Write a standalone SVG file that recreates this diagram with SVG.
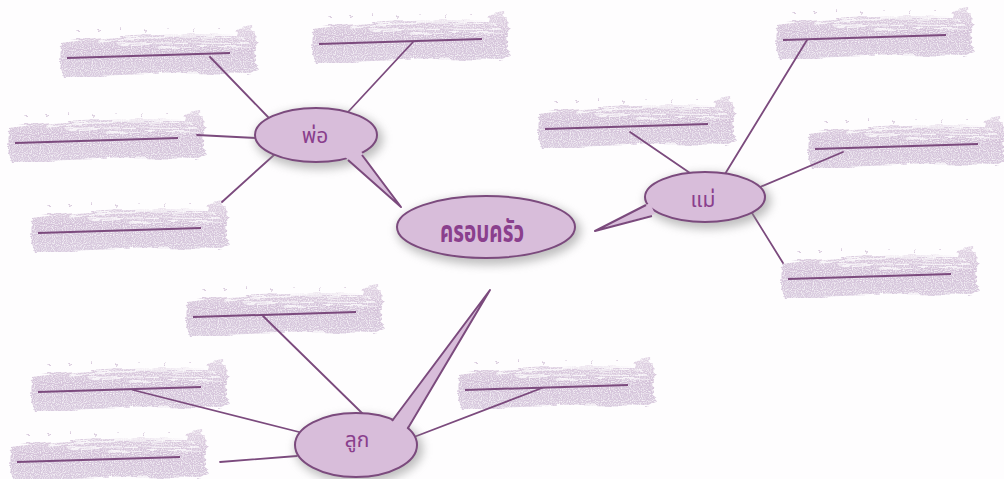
<svg xmlns="http://www.w3.org/2000/svg" xmlns:xlink="http://www.w3.org/1999/xlink" width="1004" height="479" viewBox="0 0 1004 479">
<style>
.conn{stroke:#7b4a7d;stroke-width:1.8;fill:none;stroke-linecap:round}
.ul{stroke:#7b4a7d;stroke-width:2;fill:none}
.bub{fill:#d8bdda;stroke:#7b4a7d;stroke-width:2}
.tailf{fill:#d8bdda;stroke:none}
.tails{fill:none;stroke:#7b4a7d;stroke-width:2;stroke-linejoin:round}
.shadow{fill:#8a8a8a;opacity:0.55}
.lbl{font-family:"Noto Sans Thai","Noto Sans","DejaVu Sans",sans-serif;fill:#8a3f8d;text-anchor:middle}
</style>
<defs>
<linearGradient id="brushGrad" x1="0" y1="0" x2="0" y2="1">
<stop offset="0" stop-color="#e2d5e5"/>
<stop offset="0.45" stop-color="#d4c2d9"/>
<stop offset="1" stop-color="#d9cbdf"/>
</linearGradient>
<filter id="rough" x="-5%" y="-25%" width="110%" height="150%">
<feTurbulence type="fractalNoise" baseFrequency="0.03 0.3" numOctaves="3" seed="4" result="n"/>
<feDisplacementMap in="SourceGraphic" in2="n" scale="7" xChannelSelector="R" yChannelSelector="G" result="d"/>
<feTurbulence type="fractalNoise" baseFrequency="0.9" numOctaves="1" seed="7" result="g"/>
<feColorMatrix in="g" type="matrix" values="0 0 0 0 1  0 0 0 0 1  0 0 0 0 1  0 0 0 -2.2 1.25" result="gw"/>
<feComposite in="gw" in2="d" operator="atop"/>
</filter>
<filter id="blur" x="-30%" y="-30%" width="160%" height="160%">
<feGaussianBlur stdDeviation="5"/>
</filter>
<g id="blank">
<g filter="url(#rough)">
<path d="M3,18 C45,11 115,8 178,10 L180,3 L193,1 L199,14 L197,32 L200,44 L190,49 C130,47 70,49 6,53 L2,40 Z" fill="url(#brushGrad)"/>
<path d="M40,16 C90,12 140,11 185,13 M60,20 C110,17 150,16 190,18 M100,23 C130,21 160,21 192,22" stroke="#ffffff" stroke-width="1.3" opacity="0.75" fill="none"/>
<path d="M20,7 h2 M40,5 h2 M62,4 h1 M85,6 h2 M110,3 h2 M135,5 h1 M160,4 h2" stroke="#cdb9d2" stroke-width="1.5" fill="none"/>
</g>
<path class="ul" d="M9,33 L172,28"/>
</g>
</defs>
<rect width="1004" height="479" fill="#fefdfe"/>

<g id="blanks">
<g id="blank1"><use xlink:href="#blank" href="#blank" transform="translate(58,25)"/></g>
<g id="blank2"><use xlink:href="#blank" href="#blank" transform="translate(310,11)"/></g>
<g id="blank3"><use xlink:href="#blank" href="#blank" transform="translate(774,7)"/></g>
<g id="blank4"><use xlink:href="#blank" href="#blank" transform="translate(6,110)"/></g>
<g id="blank5"><use xlink:href="#blank" href="#blank" transform="translate(29,200)"/></g>
<g id="blank6"><use xlink:href="#blank" href="#blank" transform="translate(536,96)"/></g>
<g id="blank7"><use xlink:href="#blank" href="#blank" transform="translate(806,116)"/></g>
<g id="blank8"><use xlink:href="#blank" href="#blank" transform="translate(779,246)"/></g>
<g id="blank9"><use xlink:href="#blank" href="#blank" transform="translate(184,284)"/></g>
<g id="blank10"><use xlink:href="#blank" href="#blank" transform="translate(29,359)"/></g>
<g id="blank11"><use xlink:href="#blank" href="#blank" transform="translate(8,429)"/></g>
<g id="blank12"><use xlink:href="#blank" href="#blank" transform="translate(456,357)"/></g>
</g>

<g id="connectors">
<line class="conn" x1="210" y1="57" x2="268" y2="117"/>
<line class="conn" x1="413" y1="42" x2="348" y2="112"/>
<line class="conn" x1="197" y1="135" x2="256" y2="138"/>
<line class="conn" x1="222" y1="202" x2="274" y2="155"/>
<line class="conn" x1="630" y1="132" x2="690" y2="173"/>
<line class="conn" x1="807" y1="40" x2="725" y2="174"/>
<line class="conn" x1="843" y1="152" x2="760" y2="187"/>
<line class="conn" x1="783" y1="263" x2="752" y2="213"/>
<line class="conn" x1="263" y1="316" x2="363" y2="414"/>
<line class="conn" x1="133" y1="390" x2="299" y2="432"/>
<line class="conn" x1="220" y1="462" x2="297" y2="456"/>
<line class="conn" x1="542" y1="388" x2="414" y2="437"/>
</g>

<g id="node-family">
<ellipse class="shadow" cx="489" cy="231" rx="92" ry="34" filter="url(#blur)"/>
<ellipse class="bub" cx="486" cy="227" rx="89" ry="31"/>
<text class="lbl" x="482" y="242" font-size="30" font-weight="bold" textLength="84" lengthAdjust="spacingAndGlyphs">ครอบครัว</text>
</g>

<g id="node-father">
<ellipse class="shadow" cx="319" cy="139" rx="64" ry="30" filter="url(#blur)"/>
<ellipse class="bub" cx="316" cy="135" rx="61" ry="27"/>
<path class="tailf" d="M344,156 L360,150 L401,207 Z"/>
<path class="tails" d="M348,160 L401,207 L362,155"/>
<text class="lbl" x="315" y="143" font-size="21">พ่อ</text>
</g>

<g id="node-mother">
<ellipse class="shadow" cx="708" cy="201" rx="63" ry="28" filter="url(#blur)"/>
<ellipse class="bub" cx="705" cy="197" rx="60" ry="25"/>
<path class="tailf" d="M650,203 L655,214 L595,231 Z"/>
<path class="tails" d="M646,205 L595,231 L652,216"/>
<text class="lbl" x="703" y="207" font-size="21">แม่</text>
</g>

<g id="node-child">
<ellipse class="shadow" cx="359" cy="449" rx="64" ry="34" filter="url(#blur)"/>
<ellipse class="bub" cx="356" cy="445" rx="61" ry="32"/>
<path class="tailf" d="M390,425 L405,431 L490,290 Z"/>
<path class="tails" d="M392,421 L490,290 L408,428"/>
<text class="lbl" x="357" y="447" font-size="21">ลูก</text>
</g>
</svg>
